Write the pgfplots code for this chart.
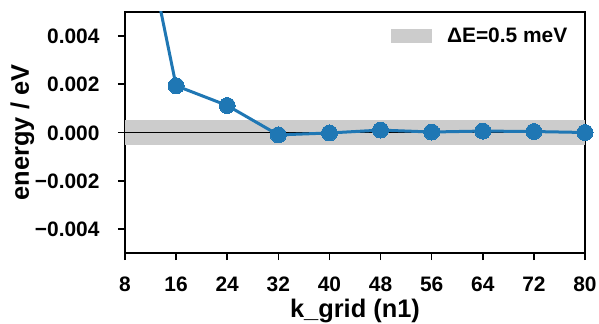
\documentclass[border=0pt]{standalone}
\usepackage{fontspec}
\setmainfont{Liberation Sans}
\usepackage{pgfplots}
\pgfplotsset{compat=1.18}
\definecolor{c0}{HTML}{1F77B4}
\definecolor{band}{HTML}{CCCCCC}
\begin{document}
\begin{tikzpicture}
\begin{axis}[
  name=ax,
  scale only axis,
  width=460bp, height=241bp,
  xmin=8, xmax=80, ymin=-0.005, ymax=0.005,
  xtick={8,16,24,32,40,48,56,64,72,80},
  xticklabels={8,16,24,32,40,48,56,64,72,80},
  ytick={-0.004,-0.002,0,0.002,0.004},
  yticklabels={−0.004,−0.002,0.000,0.002,0.004},
  scaled y ticks=false,
  tick align=outside,
  tick pos=left,
  major tick length=7bp,
  every tick/.append style={black, line width=1.6bp},
  axis line style={line width=1.3bp},
  ticklabel style={font=\fontsize{21}{23}\selectfont\bfseries},
  xticklabel style={anchor=base, yshift=-31bp},
  yticklabel style={anchor=base east, xshift=-15bp, yshift=-7.5bp},
  xlabel={k\_grid (n1)},
  ylabel={energy / eV},
  label style={font=\fontsize{25.5}{27}\selectfont\bfseries},
  xlabel style={at={([yshift=-64bp]axis description cs:0.5,0)}, anchor=base},
  ylabel style={at={([xshift=-96bp]axis description cs:0,0.5)}, anchor=base},
  legend style={draw=none, fill=none, at={(0.975,0.955)}, anchor=north east, font=\fontsize{21}{23}\selectfont\bfseries},
  legend cell align=left,
  legend image code/.code={\fill[band] (0bp,-7bp) rectangle (41bp,7bp);},
  legend style={/tikz/every even column/.append style={column sep=0bp}, nodes={inner sep=3bp}},
]
\addplot[fill=band, draw=none] coordinates {(8,-0.0005) (80,-0.0005) (80,0.0005) (8,0.0005)} -- cycle;
\addlegendentry{\hspace{12bp}ΔE=0.5 meV}
\addplot[black, line width=0.8bp, forget plot] coordinates {(8,0) (80,0)};
\addplot[c0, line width=3bp, mark=*, mark size=8bp, mark options={fill=c0, draw=c0, line width=0pt}, forget plot] coordinates {
(8,0.0123) (16,0.00194) (24,0.00112) (32,-0.00010) (40,-0.00002) (48,0.00010) (56,0.00002) (64,0.00006) (72,0.00004) (80,0.0)
};
\end{axis}
\pgfresetboundingbox
\path[use as bounding box] ([xshift=-125bp,yshift=-71bp]ax.south west) rectangle ([xshift=14bp,yshift=12bp]ax.north east);
\end{tikzpicture}
\end{document}
